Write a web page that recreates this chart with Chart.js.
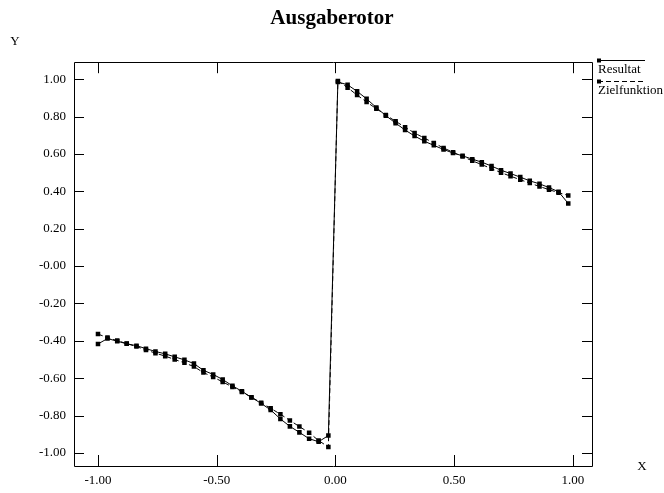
<!DOCTYPE html>
<html>
<head>
<meta charset="utf-8">
<title>Ausgaberotor</title>
<script src="https://cdn.jsdelivr.net/npm/chart.js@4.4.0/dist/chart.umd.min.js"></script>
<style>
  html, body { margin: 0; padding: 0; background: #fff; }
  #wrap { width: 664px; height: 493px; }
</style>
</head>
<body>
<div id="wrap"><canvas id="chart" width="664" height="493"></canvas></div>
<script>
// sample positions (x)
const xValues = [
  -1.000, -0.960, -0.919, -0.879, -0.838, -0.798, -0.758, -0.717, -0.677, -0.636,
  -0.596, -0.556, -0.515, -0.475, -0.434, -0.394, -0.354, -0.313, -0.273, -0.232,
  -0.192, -0.152, -0.111, -0.071, -0.030,
   0.010,  0.051,  0.091,  0.131,  0.172,  0.212,  0.253,  0.293,  0.333,  0.374,
   0.414,  0.455,  0.495,  0.535,  0.576,  0.616,  0.657,  0.697,  0.737,  0.778,
   0.818,  0.859,  0.899,  0.939,  0.980
];

// solid line
const resultat = [
  -0.417, -0.388, -0.402, -0.416, -0.426, -0.442, -0.457, -0.470, -0.486, -0.502,
  -0.522, -0.558, -0.580, -0.607, -0.641, -0.670, -0.703, -0.735, -0.770, -0.818,
  -0.858, -0.890, -0.924, -0.940, -0.907,
   0.985,  0.970,  0.935,  0.895,  0.848,  0.805,  0.765,  0.728,  0.696,  0.668,
   0.646,  0.624,  0.605,  0.590,  0.572,  0.556,  0.535,  0.513,  0.495,  0.476,
   0.456,  0.440,  0.420,  0.398,  0.335
];

// dashed line
const zielfunktion = [
  -0.364, -0.383, -0.399, -0.415, -0.431, -0.449, -0.466, -0.482, -0.500, -0.518,
  -0.538, -0.570, -0.594, -0.620, -0.647, -0.674, -0.702, -0.731, -0.761, -0.793,
  -0.826, -0.859, -0.892, -0.934, -0.968,
   0.990,  0.955,  0.915,  0.878,  0.842,  0.808,  0.775,  0.743,  0.712,  0.685,
   0.659,  0.632,  0.609,  0.586,  0.563,  0.543,  0.521,  0.500,  0.481,  0.462,
   0.444,  0.426,  0.409,  0.393,  0.378
];

const xTicks = [-1, -0.5, 0, 0.5, 1];
const xTickLabels = ['-1.00', '-0.50', '0.00', '0.50', '1.00'];
const yTicks = [1, 0.8, 0.6, 0.4, 0.2, 0, -0.2, -0.4, -0.6, -0.8, -1];
const yTickLabels = ['1.00', '0.80', '0.60', '0.40', '0.20', '-0.00', '-0.20', '-0.40', '-0.60', '-0.80', '-1.00'];

const serif = "'Liberation Serif', 'DejaVu Serif', serif";

// box, inward ticks on all four sides, axis letters and legend
const framePlugin = {
    id: 'frame',
    afterDraw(chart) {
        const ctx = chart.ctx;
        const a = chart.chartArea;
        const xs = chart.scales.x;
        const ys = chart.scales.y;
        ctx.save();
        ctx.strokeStyle = '#000';
        ctx.lineWidth = 1;
        ctx.beginPath();
        ctx.rect(Math.round(a.left) + 0.5, Math.round(a.top) + 0.5,
                 Math.round(a.right - a.left), Math.round(a.bottom - a.top));
        xTicks.forEach(v => {
            const px = Math.round(xs.getPixelForValue(v)) + 0.5;
            ctx.moveTo(px, a.bottom); ctx.lineTo(px, a.bottom - 11);
            ctx.moveTo(px, a.top); ctx.lineTo(px, a.top + 11);
        });
        yTicks.forEach(v => {
            const py = Math.round(ys.getPixelForValue(v)) + 0.5;
            ctx.moveTo(a.left, py); ctx.lineTo(a.left + 10, py);
            ctx.moveTo(a.right, py); ctx.lineTo(a.right - 10, py);
        });
        ctx.stroke();

        ctx.fillStyle = '#000';
        ctx.font = '13px ' + serif;
        ctx.textAlign = 'center';
        ctx.textBaseline = 'middle';
        ctx.fillText('Y', 15, 42);
        ctx.fillText('X', 642, 467);

        // legend
        const items = [
            { label: 'Resultat', y: 60, dash: [] },
            { label: 'Zielfunktion', y: 81, dash: [5, 3] }
        ];
        ctx.textAlign = 'left';
        ctx.textBaseline = 'alphabetic';
        items.forEach(it => {
            ctx.setLineDash(it.dash);
            ctx.beginPath();
            ctx.moveTo(598, it.y + 0.5);
            ctx.lineTo(645, it.y + 0.5);
            ctx.stroke();
            ctx.setLineDash([]);
            ctx.fillRect(597, it.y - 1.5, 4, 4);
            ctx.fillText(it.label, 598, it.y + 13);
        });
        ctx.restore();
    }
};

const ctx = document.getElementById('chart').getContext('2d');

new Chart(ctx, {
    type: 'line',
    data: {
        datasets: [
            {
                label: 'Resultat',
                data: xValues.map((x, i) => ({ x: x, y: resultat[i] })),
                borderColor: '#000',
                backgroundColor: '#000',
                borderWidth: 1,
                pointStyle: 'rect',
                pointRadius: 3.2,
                pointBorderWidth: 0,
                tension: 0
            },
            {
                label: 'Zielfunktion',
                data: xValues.map((x, i) => ({ x: x, y: zielfunktion[i] })),
                borderColor: '#000',
                backgroundColor: '#000',
                borderWidth: 1,
                borderDash: [5, 3],
                pointStyle: 'rect',
                pointRadius: 3.2,
                pointBorderWidth: 0,
                tension: 0
            }
        ]
    },
    options: {
        responsive: false,
        animation: false,
        layout: { padding: 0 },
        plugins: {
            legend: { display: false },
            tooltip: { enabled: false },
            title: {
                display: true,
                text: 'Ausgaberotor',
                color: '#000',
                font: { family: serif, size: 21, weight: 'bold' },
                padding: { top: 6, bottom: 31 }
            }
        },
        scales: {
            x: {
                type: 'linear',
                min: -1.101,
                max: 1.08,
                afterBuildTicks: (scale) => { scale.ticks = xTicks.map(v => ({ value: v })); },
                afterFit: (scale) => { scale.height = 27; },
                grid: { display: false, drawTicks: false },
                border: { display: false },
                ticks: {
                    autoSkip: false,
                    maxRotation: 0,
                    padding: 7,
                    color: '#000',
                    font: { family: serif, size: 13 },
                    callback: (v, i) => xTickLabels[i]
                }
            },
            y: {
                type: 'linear',
                min: -1.07,
                max: 1.091,
                afterBuildTicks: (scale) => { scale.ticks = yTicks.map(v => ({ value: v })); },
                afterFit: (scale) => { scale.width = 74; },
                grid: { display: false, drawTicks: false },
                border: { display: false },
                ticks: {
                    autoSkip: false,
                    padding: 8,
                    color: '#000',
                    font: { family: serif, size: 13 },
                    callback: (v, i) => yTickLabels[i]
                }
            },
            // empty right-hand axis that only reserves the legend strip
            yRight: {
                type: 'linear',
                position: 'right',
                afterFit: (scale) => { scale.width = 72; },
                grid: { display: false, drawTicks: false },
                border: { display: false },
                ticks: { display: false }
            }
        }
    },
    plugins: [framePlugin]
});
</script>
</body>
</html>
